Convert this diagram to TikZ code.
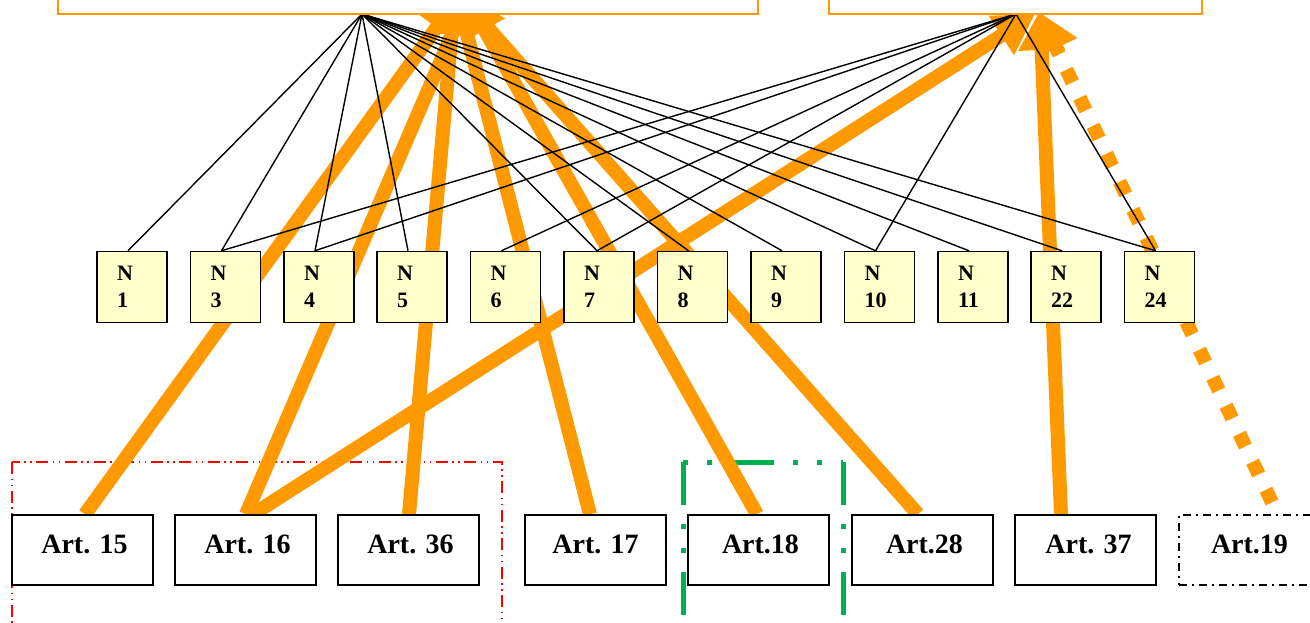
\documentclass[tikz,border=0pt]{standalone}
\usepackage{fontspec}
\setmainfont{Liberation Serif}
\usepackage{xcolor}
\usetikzlibrary{arrows.meta}

\definecolor{flow}{RGB}{255,153,0}
\definecolor{nfill}{RGB}{255,255,204}
\definecolor{framegreen}{RGB}{0,176,80}

\pgfdeclarelayer{frames}
\pgfdeclarelayer{flows}
\pgfdeclarelayer{wires}
\pgfsetlayers{frames,flows,wires,main}

\begin{document}
\begin{tikzpicture}[x=1pt, y=-1pt,
    topbox/.style={rectangle, draw=flow, line width=2pt, fill=white, minimum height=60pt, inner sep=0pt},
    nbox/.style={rectangle, draw=black, line width=1.5pt, fill=nfill, minimum width=70pt, minimum height=71pt, inner xsep=20pt, inner ysep=0pt, text width=30pt, align=left, font=\bfseries\fontsize{22}{27}\selectfont},
    artbox/.style={rectangle, draw=black, line width=1.5pt, fill=white, minimum width=141pt, minimum height=70pt, inner sep=0pt, text height=20pt, text depth=14pt, font=\bfseries\fontsize{28}{30}\selectfont},
    artdashed/.style={artbox, line width=1.2pt, dash pattern=on 8pt off 5pt on 2pt off 5pt},
    wire/.style={draw=black, line width=1.4pt},
    flowarrow/.style={draw=flow, line width=14pt, -{Triangle[length=40pt,width=44pt]}},
    dottedflow/.style={flowarrow, dash pattern=on 14pt off 17pt},
    redframe/.style={draw=red, line width=1.5pt, dash pattern=on 12pt off 4.5pt on 1.5pt off 4.5pt on 1.5pt off 4.5pt},
    greenframe/.style={draw=framegreen, line width=5pt, dash pattern=on 43pt off 19pt on 5pt off 19pt on 5pt off 19pt},
]
\useasboundingbox (0,0) rectangle (1310,622);

% === TOP: the two boxes (cut off by the page) ===
\node[topbox, minimum width=700pt] (lbox) at (408,-16)    {};
\node[topbox, minimum width=373pt] (rbox) at (1015.5,-16) {};
\coordinate (la) at (362,14);
\coordinate (ra) at (1016,14);

% === MIDDLE ROW: N boxes (y=287) ===
\node[nbox] (n1)  at (132,287)    {N\\1};
\node[nbox] (n3)  at (225.5,287)  {N\\3};
\node[nbox] (n4)  at (319,287)    {N\\4};
\node[nbox] (n5)  at (412,287)    {N\\5};
\node[nbox] (n6)  at (505.5,287)  {N\\6};
\node[nbox] (n7)  at (599,287)    {N\\7};
\node[nbox] (n8)  at (692.5,287)  {N\\8};
\node[nbox] (n9)  at (786,287)    {N\\9};
\node[nbox] (n10) at (879.5,287)  {N\\10};
\node[nbox] (n11) at (973,287)    {N\\11};
\node[nbox] (n22) at (1066,287)   {N\\22};
\node[nbox] (n24) at (1159.5,287) {N\\24};

% === BOTTOM ROW: articles (y=550) ===
\node[artbox]    (a15) at (82.5,550)   {\hspace*{4pt}Art. 15};
\node[artbox]    (a16) at (245.5,550)  {\hspace*{4pt}Art. 16};
\node[artbox]    (a36) at (408.5,550)  {\hspace*{4pt}Art. 36};
\node[artbox]    (a17) at (595.5,550)  {Art. 17};
\node[artbox]    (a18) at (758.5,550)  {\hspace*{4pt}Art.18};
\node[artbox]    (a28) at (922.5,550)  {\hspace*{4pt}Art.28};
\node[artbox]    (a37) at (1085.5,550) {\hspace*{6pt}Art. 37};
\node[artdashed] (a19) at (1249.5,550) {Art.19};

% tips of the flows, hidden under the top boxes
\coordinate (t15)  at (460,-5);
\coordinate (t16)  at (469,-5);
\coordinate (t36)  at (455,-5);
\coordinate (t17)  at (457,-5);
\coordinate (t18)  at (465,-5);
\coordinate (t28)  at (459,-5);
\coordinate (t16r) at (1035,14);
\coordinate (t37)  at (1040,10);
\coordinate (t19)  at (1039,12);

% =======================================================================
% FRAMES
% =======================================================================
\begin{pgfonlayer}{frames}
\draw[redframe] (12,462) rectangle (502,660);
\draw[greenframe] (683,462) -- (683,660);
\draw[greenframe] (843,462) -- (843,660);
\draw[greenframe, dash phase=62pt] (683,462) -- (843,462);
\end{pgfonlayer}

% =======================================================================
% FLOWS - orange, from the articles up to the top boxes
% =======================================================================
\begin{pgfonlayer}{flows}
\draw[flowarrow] ([xshift=2.5pt]a15.north) -- (t15);
\draw[flowarrow] ([xshift=0.5pt]a16.north) -- (t16);
\draw[flowarrow] ([xshift=7.5pt]a16.north) -- (t16r);
\draw[flowarrow] ([xshift=0.5pt]a36.north) -- (t36);
\draw[flowarrow] ([xshift=-5.5pt]a17.north) -- (t17);
\draw[flowarrow] ([xshift=-1.5pt]a18.north) -- (t18);
\draw[flowarrow] ([xshift=-4.5pt]a28.north) -- (t28);
\draw[flowarrow] ([xshift=-24.5pt]a37.north) -- (t37);
\draw[dottedflow] ([xshift=22.5pt,yshift=12pt]a19.north) -- (t19);
\end{pgfonlayer}

% =======================================================================
% WIRES - black, from the two apexes to the N boxes
% =======================================================================
\begin{pgfonlayer}{wires}
% --- left box ---
\draw[wire] (la) -- ([xshift=-4pt]n1.north);
\draw[wire] (la) -- ([xshift=-4pt]n3.north);
\draw[wire] (la) -- ([xshift=-4pt]n4.north);
\draw[wire] (la) -- ([xshift=-4pt]n5.north);
\draw[wire] (la) -- ([xshift=-2pt]n7.north);
\draw[wire] (la) -- ([xshift=-4pt]n8.north);
\draw[wire] (la) -- ([xshift=-4pt]n9.north);
\draw[wire] (la) -- ([xshift=-4pt]n10.north);
\draw[wire] (la) -- ([xshift=-4pt]n11.north);
\draw[wire] (la) -- ([xshift=-4pt]n22.north);
\draw[wire] (la) -- ([xshift=-4pt]n24.north);
% --- right box ---
\draw[wire] (ra) -- ([xshift=-4pt]n3.north);
\draw[wire] (ra) -- ([xshift=-4pt]n4.north);
\draw[wire] (ra) -- ([xshift=-4pt]n6.north);
\draw[wire] (ra) -- ([xshift=-2pt]n7.north);
\draw[wire] (ra) -- ([xshift=-4pt]n10.north);
\draw[wire] (ra) -- ([xshift=-4pt]n24.north);
\end{pgfonlayer}

\end{tikzpicture}
\end{document}
